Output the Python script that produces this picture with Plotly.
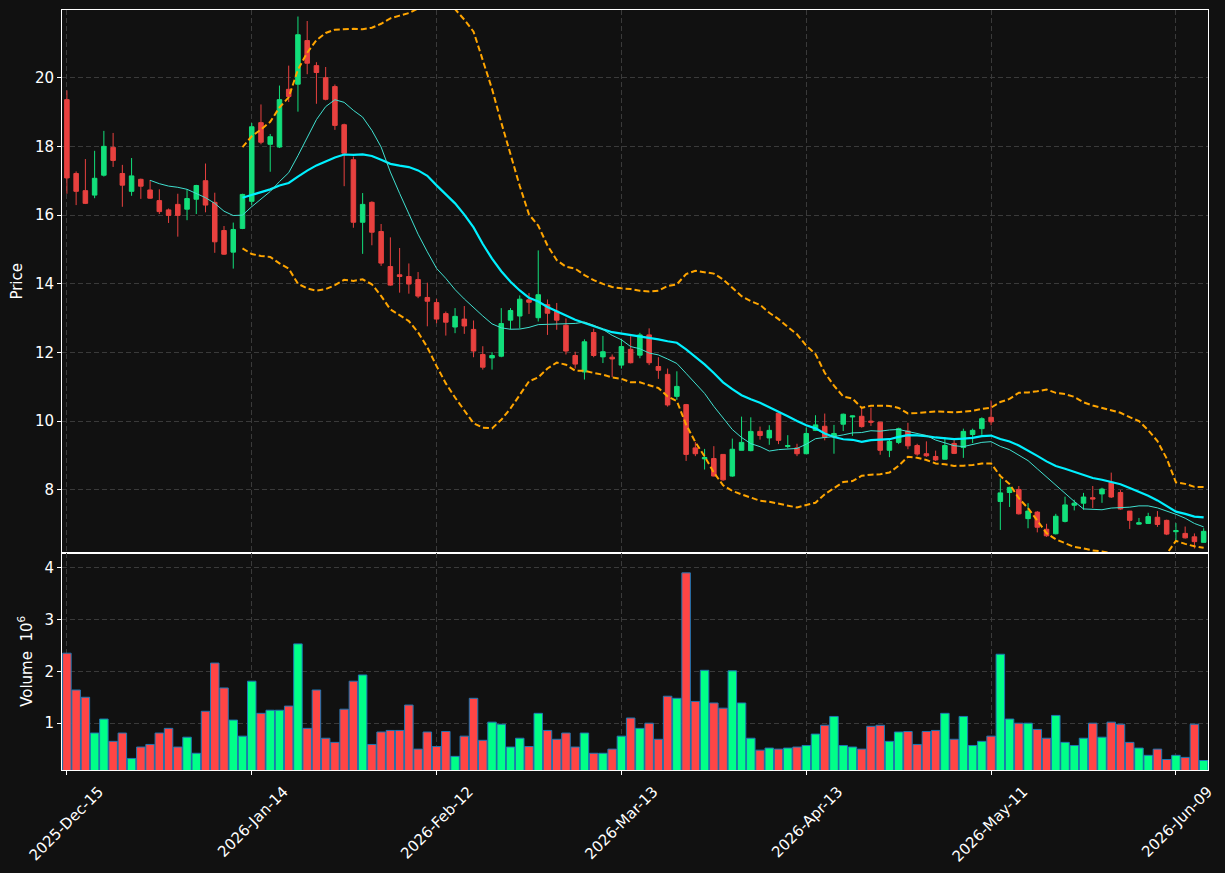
import plotly.graph_objects as go
import pandas as pd

# ---------------- data ----------------
tick_idx = [0, 20, 40, 60, 80, 100, 120]
tick_labels = ["2025-Dec-15", "2026-Jan-14", "2026-Feb-12", "2026-Mar-13",
               "2026-Apr-13", "2026-May-11", "2026-Jun-09"]

opens = [19.36, 17.21, 16.71, 16.58, 17.16, 17.97, 17.21, 16.69, 17.04, 16.73,
         16.42, 16.15, 16.31, 16.17, 16.46, 17.00, 16.37, 15.55, 14.92, 15.61,
         16.40, 18.69, 18.06, 17.98, 19.66, 19.81, 21.08, 20.35, 20.00, 19.74,
         18.63, 17.61, 15.79, 16.37, 15.52, 14.50, 14.26, 14.21, 14.12, 13.60,
         13.45, 13.13, 12.74, 12.97, 12.67, 11.94, 11.84, 11.89, 12.94, 13.06,
         13.53, 13.01, 13.39, 13.20, 12.79, 11.91, 11.43, 12.58, 11.87, 11.86,
         11.63, 12.09, 11.92, 12.51, 11.59, 11.36, 10.72, 10.48, 9.22, 8.90,
         8.91, 9.03, 8.40, 9.15, 9.14, 9.70, 9.51, 10.23, 9.26, 9.22,
         9.05, 9.73, 9.85, 9.54, 9.91, 10.12, 10.14, 10.00, 9.97, 9.15,
         9.38, 9.71, 9.29, 9.05, 8.97, 8.89, 9.35, 9.23, 9.61, 9.78,
         10.11, 7.66, 7.92, 8.01, 7.16, 7.35, 6.85, 6.72, 7.08, 7.55,
         7.61, 7.77, 7.88, 8.22, 7.92, 7.38, 7.00, 7.02, 7.20, 7.11,
         6.78, 6.73, 6.63, 6.47]
highs = [19.63, 17.27, 17.63, 17.87, 18.45, 18.39, 17.46, 17.66, 17.06, 17.02,
         16.75, 16.19, 16.62, 16.75, 16.88, 17.50, 16.65, 15.68, 15.78, 16.62,
         18.68, 19.22, 18.36, 19.77, 20.35, 21.78, 21.65, 20.45, 20.31, 19.80,
         18.66, 17.70, 16.64, 16.40, 15.74, 15.35, 15.04, 14.59, 14.34, 14.03,
         13.56, 13.19, 13.29, 13.35, 12.93, 12.18, 12.01, 13.29, 13.29, 13.66,
         13.73, 14.97, 13.54, 13.44, 12.99, 12.02, 12.38, 12.69, 12.48, 11.94,
         12.39, 12.47, 12.57, 12.70, 11.86, 11.53, 11.45, 10.50, 9.39, 9.19,
         9.27, 9.04, 9.49, 10.13, 10.11, 9.84, 9.88, 10.25, 9.59, 9.34,
         9.81, 10.17, 10.22, 9.89, 10.22, 10.16, 10.39, 10.39, 9.98, 9.49,
         9.81, 9.95, 9.34, 9.41, 9.14, 9.53, 9.48, 9.78, 9.78, 10.11,
         10.60, 8.33, 8.09, 8.11, 7.61, 7.38, 7.01, 7.30, 7.80, 7.71,
         7.91, 8.11, 8.06, 8.50, 7.99, 7.38, 7.18, 7.33, 7.38, 7.13,
         7.03, 6.93, 6.73, 6.88]
lows = [16.62, 16.29, 16.32, 16.49, 17.12, 17.40, 16.24, 16.56, 16.47, 16.47,
        16.03, 15.77, 15.37, 15.85, 16.03, 16.08, 14.90, 14.84, 14.44, 15.59,
        16.29, 18.06, 17.26, 17.95, 19.29, 19.01, 20.10, 19.24, 19.34, 18.48,
        16.84, 15.63, 14.87, 15.12, 14.52, 13.94, 13.74, 13.71, 13.58, 12.76,
        12.85, 12.49, 12.56, 12.54, 11.86, 11.50, 11.50, 11.86, 12.67, 12.70,
        13.12, 12.90, 12.51, 12.66, 11.94, 11.53, 11.21, 11.86, 11.69, 11.28,
        11.53, 11.68, 11.83, 11.63, 11.23, 10.42, 10.62, 8.84, 8.98, 8.59,
        8.39, 8.26, 8.38, 9.15, 9.12, 9.46, 9.31, 9.33, 9.21, 8.98,
        9.04, 9.71, 9.44, 9.05, 9.71, 9.57, 9.81, 9.86, 9.02, 8.95,
        9.33, 9.18, 8.99, 8.96, 8.84, 8.89, 9.04, 8.93, 9.36, 9.60,
        9.88, 6.83, 7.50, 7.28, 6.88, 6.76, 6.63, 6.70, 7.05, 7.40,
        7.42, 7.47, 7.62, 7.76, 7.42, 6.86, 6.99, 7.01, 6.92, 6.68,
        6.47, 6.58, 6.29, 6.47]
closes = [17.08, 16.69, 16.34, 17.07, 18.00, 17.59, 16.87, 17.14, 16.84, 16.49,
          16.10, 15.99, 15.99, 16.48, 16.86, 16.29, 15.22, 14.86, 15.58, 16.60,
          18.57, 18.12, 18.28, 19.36, 19.45, 21.25, 20.42, 20.15, 19.37, 18.61,
          17.80, 15.79, 16.31, 15.50, 14.60, 13.96, 14.21, 13.99, 13.64, 13.49,
          12.97, 12.88, 13.05, 12.77, 12.04, 11.57, 11.91, 12.84, 13.22, 13.55,
          13.46, 13.68, 13.14, 12.94, 12.04, 11.66, 12.31, 11.91, 12.02, 11.81,
          12.17, 11.70, 12.51, 11.70, 11.48, 10.47, 11.01, 9.03, 9.05, 8.94,
          8.40, 8.29, 9.18, 9.38, 9.70, 9.58, 9.73, 9.44, 9.29, 9.05,
          9.64, 9.89, 9.53, 9.64, 10.20, 10.15, 9.84, 9.97, 9.15, 9.41,
          9.78, 9.28, 9.04, 8.99, 8.87, 9.29, 9.06, 9.70, 9.73, 10.07,
          9.98, 7.91, 8.07, 7.30, 7.38, 6.91, 6.66, 7.23, 7.56, 7.61,
          7.79, 7.73, 8.02, 7.79, 7.44, 7.11, 7.04, 7.22, 6.99, 6.71,
          6.81, 6.60, 6.49, 6.79]
volume_m = [2.35, 1.64, 1.50, 0.81, 1.08, 0.65, 0.81, 0.32, 0.54, 0.59,
            0.81, 0.90, 0.54, 0.73, 0.42, 1.23, 2.16, 1.68, 1.06, 0.75,
            1.81, 1.19, 1.25, 1.25, 1.33, 2.53, 0.90, 1.64, 0.71, 0.63,
            1.27, 1.81, 1.93, 0.59, 0.83, 0.86, 0.86, 1.35, 0.50, 0.83,
            0.55, 0.84, 0.36, 0.75, 1.48, 0.67, 1.02, 0.98, 0.54, 0.71,
            0.55, 1.19, 0.86, 0.69, 0.81, 0.54, 0.81, 0.42, 0.42, 0.50,
            0.75, 1.10, 0.90, 1.00, 0.69, 1.52, 1.48, 3.90, 1.42, 2.02,
            1.39, 1.29, 2.01, 1.39, 0.71, 0.48, 0.52, 0.50, 0.52, 0.54,
            0.57, 0.79, 0.96, 1.13, 0.57, 0.54, 0.50, 0.94, 0.96, 0.65,
            0.83, 0.84, 0.59, 0.84, 0.86, 1.19, 0.69, 1.13, 0.57, 0.65,
            0.75, 2.33, 1.08, 1.00, 1.00, 0.88, 0.71, 1.15, 0.63, 0.57,
            0.71, 1.00, 0.73, 1.02, 0.98, 0.63, 0.52, 0.38, 0.50, 0.30,
            0.38, 0.34, 0.98, 0.28]

# ---------------- derived ----------------
x = list(range(len(closes)))
cs = pd.Series(closes)
ma10 = cs.rolling(10).mean()
ma20 = cs.rolling(20).mean()
sd20 = cs.rolling(20).std(ddof=0)
upper = ma20 + 2 * sd20
lower = ma20 - 2 * sd20

BG = "#111111"
GRID = "#3a3a3a"
UP_C = "#12df7b"
DN_C = "#e8413f"
UP_V = "#00ff88"
DN_V = "#ff4545"
vol_colors = [UP_V if c >= o else DN_V for o, c in zip(opens, closes)]

fig = go.Figure()
fig.add_trace(go.Candlestick(
    x=x, open=opens, high=highs, low=lows, close=closes,
    increasing=dict(line=dict(color=UP_C, width=1), fillcolor=UP_C),
    decreasing=dict(line=dict(color=DN_C, width=1), fillcolor=DN_C),
    whiskerwidth=0, xaxis="x", yaxis="y", showlegend=False, name="Price"))
fig.add_trace(go.Scatter(x=x, y=upper, mode="lines",
                         line=dict(color="#ffa500", width=2, dash="6px,3px"),
                         xaxis="x", yaxis="y", name="BB upper"))
fig.add_trace(go.Scatter(x=x, y=lower, mode="lines",
                         line=dict(color="#ffa500", width=2, dash="6px,3px"),
                         xaxis="x", yaxis="y", name="BB lower"))
fig.add_trace(go.Scatter(x=x, y=ma20, mode="lines",
                         line=dict(color="#00f0ff", width=2.2),
                         xaxis="x", yaxis="y", name="MA20"))
fig.add_trace(go.Scatter(x=x, y=ma10, mode="lines",
                         line=dict(color="#40e0d0", width=1),
                         xaxis="x", yaxis="y", name="MA10"))
fig.add_trace(go.Bar(x=x, y=volume_m, width=0.92,
                     marker=dict(color=vol_colors, line=dict(color="#1f77b4", width=1)),
                     xaxis="x2", yaxis="y2", name="Volume"))

font = dict(family="DejaVu Sans", size=15, color="white")
common_ax = dict(showline=True, mirror=True, linecolor="white", linewidth=1,
                 showgrid=True, gridcolor=GRID, gridwidth=1, griddash="5px,3px",
                 zeroline=False, tickfont=font, tickcolor="white", automargin=False)

fig.update_layout(
    width=1225, height=873,
    paper_bgcolor=BG, plot_bgcolor=BG,
    margin=dict(l=62, r=17, t=10, b=103),
    showlegend=False,
    font=font,
    xaxis=dict(domain=[0, 1], anchor="y", range=[-0.53, 123.47],
               tickvals=tick_idx, showticklabels=False, ticks="",
               rangeslider=dict(visible=False), **common_ax),
    yaxis=dict(domain=[0.286, 1], anchor="x", range=[6.17, 21.97],
               tickvals=[8, 10, 12, 14, 16, 18, 20], ticks="outside", ticklen=4,
               title=dict(text="Price", font=font, standoff=8), **common_ax),
    xaxis2=dict(domain=[0, 1], anchor="y2", range=[-0.53, 123.47], matches="x",
                tickvals=tick_idx, ticktext=tick_labels, tickangle=-45,
                ticklabelshift=32, ticklabelstandoff=2, ticklabeloverflow="allow",
                ticks="outside", ticklen=4, **common_ax),
    yaxis2=dict(domain=[0, 0.286], anchor="x2", range=[0.097, 4.29],
                tickvals=[1, 2, 3, 4], ticks="outside", ticklen=4,
                title=dict(text="Volume  10<sup>6</sup>", font=font, standoff=8),
                **common_ax),
)

fig.write_html("out.html")
